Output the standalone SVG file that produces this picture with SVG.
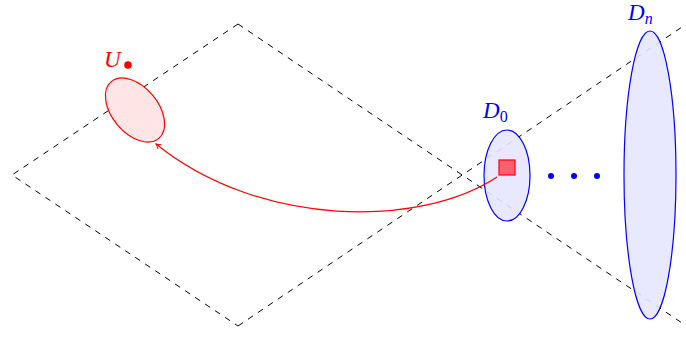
<svg xmlns="http://www.w3.org/2000/svg" width="686" height="337" viewBox="0 0 686 337">
<style>
.dash{fill:none;stroke:#000;stroke-width:1;stroke-dasharray:6,6}
.lbl{font-family:"Liberation Serif",serif;font-style:italic;font-size:23px}
</style>
<defs>
<marker id="arr" viewBox="0 0 10 10" refX="8" refY="5" markerWidth="8" markerHeight="8" orient="auto" markerUnits="userSpaceOnUse">
<path d="M2,1.5 Q5,4 8,5 Q5,6 2,8.5" fill="none" stroke="red" stroke-width="1.2"/>
</marker>
</defs>
<g id="plane">
<path class="dash" d="M238,24 L12,175 L238,326"/>
<path class="dash" d="M238,24 L685,325"/>
<path class="dash" d="M238,326 L685,25"/>
</g>
<g id="U">
<ellipse cx="135" cy="110" rx="37" ry="23" transform="rotate(50 135 110)" fill="#ffe5e5" stroke="red" stroke-width="1.2"/>
<text class="lbl" x="104" y="67" fill="red" font-size="24">U</text>
<circle cx="128" cy="65" r="3.8" fill="red"/>
</g>
<g id="D0">
<ellipse cx="507" cy="175.5" rx="23" ry="45.5" fill="#e5e5ff" fill-opacity="0.9" stroke="blue" stroke-width="1.2"/>
<rect x="499" y="160" width="16" height="15" fill="#ff6070" stroke="red" stroke-width="1.2"/>
<text class="lbl" x="483" y="118" fill="blue">D<tspan font-style="normal" font-size="16" dy="4">0</tspan></text>
</g>
<g id="dots">
<circle cx="551" cy="176" r="3" fill="blue"/>
<circle cx="574" cy="176" r="3" fill="blue"/>
<circle cx="597" cy="176" r="3" fill="blue"/>
</g>
<g id="Dn">
<ellipse cx="650" cy="175" rx="26" ry="144" fill="#e5e5ff" fill-opacity="0.9" stroke="blue" stroke-width="1.2"/>
<text class="lbl" x="628" y="20" fill="blue">D<tspan font-size="16" dy="4">n</tspan></text>
</g>
<g id="connectors">
<path d="M497,177 C420,228 260,228 156,144" fill="none" stroke="red" stroke-width="1.2" marker-end="url(#arr)"/>
</g>
</svg>
